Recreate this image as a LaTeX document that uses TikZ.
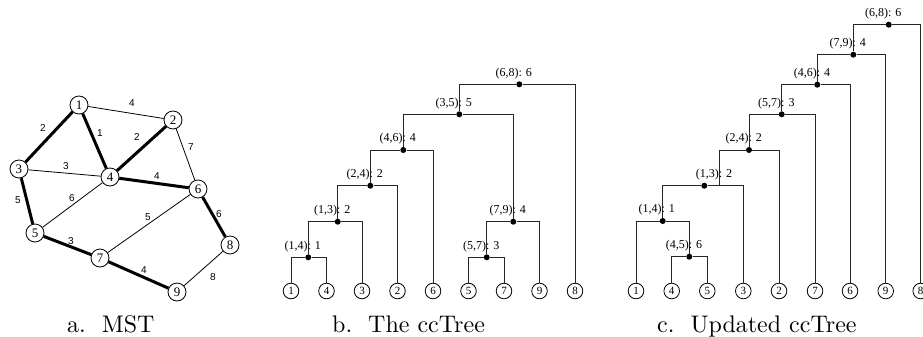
\documentclass[tikz,border=0pt]{standalone}
\usepackage{fontspec}
\newfontfamily\tim{Liberation Serif}
\newfontfamily\hel{Liberation Sans}
\newfontfamily\capfont{lmroman10-regular.otf}
\begin{document}
\begin{tikzpicture}[x=1pt,y=-1pt,
  mnode/.style={circle,draw,fill=white,line width=0.8pt,minimum size=18pt,inner sep=0pt,font=\tim\fontsize{13}{13}\selectfont},
  leaf/.style={circle,draw,fill=white,line width=0.8pt,minimum size=15.6pt,inner sep=0pt,font=\tim\fontsize{11}{11}\selectfont},
  dotn/.style={circle,fill=black,minimum size=6pt,inner sep=0pt},
  mstedge/.style={line width=3pt},
  otheredge/.style={line width=0.8pt},
  tl/.style={line width=0.9pt,black!85},
  elab/.style={font=\hel\fontsize{10}{10}\selectfont,inner sep=0pt},
  lab/.style={font=\tim\fontsize{12}{12}\selectfont,inner sep=0pt,anchor=base},
  captext/.style={font=\capfont\fontsize{24}{28}\selectfont,inner sep=0pt,anchor=base west}]
\useasboundingbox (0,0) rectangle (923,337);
\clip (0,0) rectangle (923,337);

% ---------- a. MST ----------
\node[mnode] (m1) at (79,105) {1};
\node[mnode] (m2) at (173,120) {2};
\node[mnode] (m3) at (19,169) {3};
\node[mnode] (m4) at (110,177) {4};
\node[mnode] (m5) at (35,233) {5};
\node[mnode] (m6) at (198,189) {6};
\node[mnode] (m7) at (100,258) {7};
\node[mnode] (m8) at (230,245) {8};
\node[mnode] (m9) at (177,292) {9};
\draw[mstedge] (m1) -- (m3);
\draw[mstedge] (m1) -- (m4);
\draw[mstedge] (m2) -- (m4);
\draw[mstedge] (m4) -- (m6);
\draw[mstedge] (m3) -- (m5);
\draw[mstedge] (m5) -- (m7);
\draw[mstedge] (m7) -- (m9);
\draw[mstedge] (m6) -- (m8);
\draw[otheredge] (m1) -- (m2);
\draw[otheredge] (m2) -- (m6);
\draw[otheredge] (m3) -- (m4);
\draw[otheredge] (m4) -- (m5);
\draw[otheredge] (m6) -- (m7);
\draw[otheredge] (m8) -- (m9);
\node[elab] (e12) at (132,103) {4};
\node[elab] (e13) at (43,128) {2};
\node[elab] (e14) at (100,133) {1};
\node[elab] (e24) at (137,137) {2};
\node[elab] (e26) at (191,147) {7};
\node[elab] (e34) at (66,166) {3};
\node[elab] (e46) at (157,176) {4};
\node[elab] (e35) at (18,200) {5};
\node[elab] (e45) at (72,198) {6};
\node[elab] (e67) at (148,217) {5};
\node[elab] (e68) at (219,214) {6};
\node[elab] (e57) at (71,241) {3};
\node[elab] (e79) at (144,270) {4};
\node[elab] (e89) at (213,277) {8};

% ---------- b. ccTree ----------
\foreach \n/\x in {1/291,4/326.5,3/362,2/397.5,6/433,5/468.5,7/504,9/539.5,8/575}
  \node[leaf] (b\n) at (\x,291) {\n};
\node[dotn] (b14) at (308.3,257.3) {};
\node[dotn] (b13) at (337.7,221.7) {};
\node[dotn] (b24) at (370.3,185.7) {};
\node[dotn] (b46) at (403.3,150) {};
\node[dotn] (b35) at (459.3,114.3) {};
\node[dotn] (b68) at (519.3,84.3) {};
\node[dotn] (b79) at (513.3,221.7) {};
\node[dotn] (b57) at (486.7,257.3) {};
\draw[tl] (b1) |- (b14) -| (b4);
\draw[tl] (b14) |- (b13) -| (b3);
\draw[tl] (b13) |- (b24) -| (b2);
\draw[tl] (b24) |- (b46) -| (b6);
\draw[tl] (b5) |- (b57) -| (b7);
\draw[tl] (b57) |- (b79) -| (b9);
\draw[tl] (b46) |- (b35) -| (b79);
\draw[tl] (b35) |- (b68) -| (b8);
\node[lab] (lb14) at ([shift={(-5.5pt,8.3pt)}]b14.center) {(1,4): 1};
\node[lab] (lb13) at ([shift={(-5.5pt,8.3pt)}]b13.center) {(1,3): 2};
\node[lab] (lb24) at ([shift={(-5.5pt,8.3pt)}]b24.center) {(2,4): 2};
\node[lab] (lb46) at ([shift={(-5.5pt,8.3pt)}]b46.center) {(4,6): 4};
\node[lab] (lb35) at ([shift={(-5.5pt,8.3pt)}]b35.center) {(3,5): 5};
\node[lab] (lb68) at ([shift={(-5.5pt,8.3pt)}]b68.center) {(6,8): 6};
\node[lab] (lb79) at ([shift={(-5.5pt,8.3pt)}]b79.center) {(7,9): 4};
\node[lab] (lb57) at ([shift={(-5.5pt,8.3pt)}]b57.center) {(5,7): 3};

% ---------- c. Updated ccTree ----------
\foreach \n/\x in {1/636,4/671.7,5/707.3,3/743.3,2/779,7/815,6/850,9/885.7,8/920.7}
  \node[leaf] (c\n) at (\x,291) {\n};
\node[dotn] (c45) at (689.3,256.7) {};
\node[dotn] (c14) at (662.7,221) {};
\node[dotn] (c13) at (704.3,185.7) {};
\coordinate (c13j) at (719.3,185.7);
\node[dotn] (c24) at (749,150) {};
\node[dotn] (c57) at (781.7,114.3) {};
\node[dotn] (c46) at (817.3,84.7) {};
\node[dotn] (c79) at (853.3,54.7) {};
\node[dotn] (c68) at (888.7,24.7) {};
\draw[tl] (c4) |- (c45) -| (c5);
\draw[tl] (c1) |- (c14) -| (c45);
\draw[tl] (c14) |- (c13) -| (c3);
\draw[tl] (c13j) |- (c24) -| (c2);
\draw[tl] (c24) |- (c57) -| (c7);
\draw[tl] (c57) |- (c46) -| (c6);
\draw[tl] (c46) |- (c79) -| (c9);
\draw[tl] (c79) |- (c68) -| (c8);
\node[lab] (lc45) at ([shift={(-5.3pt,8.3pt)}]c45.center) {(4,5): 6};
\node[lab] (lc14) at ([shift={(-6pt,8.3pt)}]c14.center) {(1,4): 1};
\node[lab] (lc13) at ([shift={(-5.3pt,8.3pt)}]c13j) {(1,3): 2};
\node[lab] (lc24) at ([shift={(-5.3pt,8.3pt)}]c24.center) {(2,4): 2};
\node[lab] (lc57) at ([shift={(-5.3pt,8.3pt)}]c57.center) {(5,7): 3};
\node[lab] (lc46) at ([shift={(-5.3pt,8.3pt)}]c46.center) {(4,6): 4};
\node[lab] (lc79) at ([shift={(-5.6pt,8.3pt)}]c79.center) {(7,9): 4};
\node[lab] (lc68) at ([shift={(-5.4pt,8.3pt)}]c68.center) {(6,8): 6};

% ---------- captions ----------
\node[captext] (capa) at (67,332) {a.~~MST};
\node[captext] (capb) at (332,332) {b.~~The ccTree};
\node[captext] (capc) at (657,332) {c.~~Updated ccTree};
\end{tikzpicture}
\end{document}
